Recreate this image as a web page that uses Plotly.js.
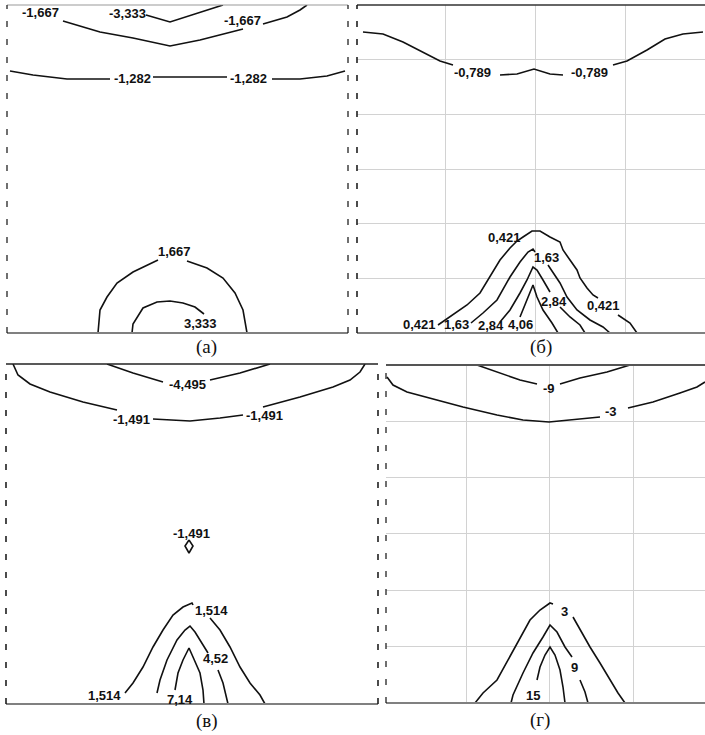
<!DOCTYPE html>
<html><head><meta charset="utf-8">
<script src="https://cdn.plot.ly/plotly-3.0.1.min.js"></script>
<style>html,body{margin:0;padding:0;background:#fff}</style>
</head><body><div id="chart" style="width:705px;height:735px"></div>
<script>
// ---- Panel (а): contour polylines (x from left edge, y = depth from top) ----
const a_m3333_x = [139, 163, 216];
const a_m3333_y = [10, 17, 0];
const a_m1667_x = [56, 93, 126, 163, 193, 236, null, 256, 280, 293, 300];
const a_m1667_y = [16, 27, 33, 41, 35, 24, null, 19, 12, 5, 0];
const a_m1282_x = [3, 26, 60, 103, null, 146, 220, null, 265, 293, 320, 338];
const a_m1282_y = [66, 70, 74, 74, null, 72, 72, null, 74, 74, 71, 66];
const a_p1667_x = [91, 93, 100, 110, 126, 146, 151, null, 180, 200, 216, 228, 236, 240];
const a_p1667_y = [328, 305, 292, 278, 267, 257, 255, null, 256, 263, 273, 288, 305, 328];
const a_p3333_x = [125, 126, 136, 150, 163, 176, 188, 197];
const a_p3333_y = [328, 319, 303, 297, 296, 298, 302, 309];
const a_labels = ["-1,667", "-3,333", "-1,667", "-1,282", "-1,282", "1,667", "3,333"];
const a_label_x = [33, 120, 235, 125, 241, 167, 193];
const a_label_y = [8, 9, 16, 74, 74, 247, 319];

// ---- Panel (б) ----
const b_m0789_x = [6, 26, 46, 66, 83, 96, null, 143, 160, 177, 193, 206, null, 256, 270, 290, 308, 326, 346];
const b_m0789_y = [27, 29, 37, 47, 56, 60, null, 70, 69, 64, 69, 70, null, 60, 56, 45, 34, 29, 27];
const b_0421_x = [81, 93, 110, 123, 133, 143, 153, 160, 166, 175, 183, 193, 203, 206, 213, 220, 223, 230, 236, 241, null, 261, 273, 280];
const b_0421_y = [320, 312, 300, 288, 272, 255, 243, 236, 232, 226, 226, 232, 237, 245, 255, 265, 273, 283, 290, 293, null, 310, 318, 328];
const b_163_x = [114, 126, 140, 153, 163, 171, 176, 178, null, 191, 196, 203, 210, 220, 233, 246, 253];
const b_163_y = [318, 308, 295, 272, 257, 247, 244, 247, null, 260, 267, 278, 292, 305, 315, 322, 328];
const b_284_x = [143, 153, 163, 170, 176, 180, 186, 193, null, 203, 213, 223, 228];
const b_284_y = [317, 305, 288, 275, 262, 265, 275, 287, null, 302, 312, 320, 328];
const b_406_x = [163, 170, 176, 180, 186, 195, 201];
const b_406_y = [312, 295, 280, 292, 305, 318, 328];
const b_labels = ["-0,789", "-0,789", "0,421", "0,421", "0,421", "1,63", "1,63", "2,84", "2,84", "4,06"];
const b_label_x = [116, 233, 63, 148, 247, 100, 190, 134, 197, 164];
const b_label_y = [68, 68, 320, 233, 301, 320, 253, 321, 297, 320];

// ---- Panel (в) ----
const c_m4495_x = [101, 127, 157, null, 204, 234, 264];
const c_m4495_y = [0, 9, 18, null, 16, 9, 0];
const c_m1491_x = [7, 12, 24, 44, 77, 111, null, 147, 184, 214, 237, null, 257, 294, 327, 344, 354, 359];
const c_m1491_y = [0, 11, 20, 28, 38, 46, null, 55, 57, 54, 51, null, 43, 33, 23, 16, 8, 0];
const c_ring_x = [183, 187, 183, 179, 183];
const c_ring_y = [176, 182, 189, 182, 176];
const c_1514_x = [119, 127, 137, 147, 157, 167, 177, 186, 187, null, 204, 214, 224, 234, 244, 254, 259];
const c_1514_y = [329, 319, 303, 283, 266, 251, 243, 239, 241, null, 254, 266, 283, 303, 319, 331, 340];
const c_452_x = [151, 154, 161, 171, 179, 184, 189, 197, 202, null, 212, 217, 222];
const c_452_y = [329, 316, 296, 276, 266, 262, 268, 281, 289, null, 306, 319, 340];
const c_714_x = [169, 172, 177, 183, 187, 194, 197, 198];
const c_714_y = [326, 309, 296, 284, 293, 309, 326, 340];
const c_labels = ["-4,495", "-1,491", "-1,491", "-1,491", "1,514", "1,514", "4,52", "7,14"];
const c_label_x = [182, 126, 259, 186, 99, 206, 210, 174];
const c_label_y = [20, 55, 51, 169, 331, 246, 294, 335];

// ---- Panel (г) ----
const d_m9_x = [91, 111, 134, 151, null, 174, 194, 221, 244];
const d_m9_y = [0, 7, 15, 19, null, 19, 13, 7, 0];
const d_m3_x = [1, 7, 21, 44, 77, 111, 137, 163, 187, 214, null, 242, 267, 294, 311, 319];
const d_m3_y = [12, 20, 27, 33, 42, 50, 55, 57, 55, 52, null, 43, 37, 28, 22, 17];
const d_3_x = [89, 97, 111, 122, 134, 144, 154, 164, 167, null, 187, 194, 204, 214, 224, 232, 239];
const d_3_y = [338, 328, 315, 295, 272, 255, 245, 238, 239, null, 252, 265, 282, 298, 315, 328, 338];
const d_9_x = [125, 127, 137, 147, 157, 164, 171, 179, 186, null, 194, 199, 202];
const d_9_y = [338, 330, 308, 288, 272, 260, 267, 282, 292, null, 315, 327, 338];
const d_15_x = [151, 154, 159, 164, 169, 174, 177, 179];
const d_15_y = [315, 302, 290, 282, 290, 305, 322, 338];
const d_labels = ["-9", "-3", "3", "9", "15"];
const d_label_x = [163, 225, 178, 188, 147];
const d_label_y = [23, 46, 246, 302, 330];

const captions = ["(а)", "(б)", "(в)", "(г)"];

// ---- build ----
const LINE = {color: '#111', width: 1.6};
function tr(x, y, ax) {
  return {type: 'scatter', mode: 'lines', x: x, y: y, xaxis: 'x' + ax, yaxis: 'y' + ax,
          line: LINE, connectgaps: false, hoverinfo: 'skip'};
}
const traces = [
  tr(a_m3333_x, a_m3333_y, ''), tr(a_m1667_x, a_m1667_y, ''), tr(a_m1282_x, a_m1282_y, ''),
  tr(a_p1667_x, a_p1667_y, ''), tr(a_p3333_x, a_p3333_y, ''),
  tr(b_m0789_x, b_m0789_y, '2'), tr(b_0421_x, b_0421_y, '2'), tr(b_163_x, b_163_y, '2'),
  tr(b_284_x, b_284_y, '2'), tr(b_406_x, b_406_y, '2'),
  tr(c_m4495_x, c_m4495_y, '3'), tr(c_m1491_x, c_m1491_y, '3'), tr(c_ring_x, c_ring_y, '3'),
  tr(c_1514_x, c_1514_y, '3'), tr(c_452_x, c_452_y, '3'), tr(c_714_x, c_714_y, '3'),
  tr(d_m9_x, d_m9_y, '4'), tr(d_m3_x, d_m3_y, '4'), tr(d_3_x, d_3_y, '4'),
  tr(d_9_x, d_9_y, '4'), tr(d_15_x, d_15_y, '4')
];

const annotations = [];
function addLabels(txt, xs, ys, ax) {
  txt.forEach((t, i) => annotations.push({
    text: '<b>' + t + '</b>', x: xs[i], y: ys[i], xref: 'x' + ax, yref: 'y' + ax,
    showarrow: false, xanchor: 'center', yanchor: 'middle',
    font: {family: 'Liberation Sans, Arial, sans-serif', size: 13, color: '#111'}
  }));
}
addLabels(a_labels, a_label_x, a_label_y, '');
addLabels(b_labels, b_label_x, b_label_y, '2');
addLabels(c_labels, c_label_x, c_label_y, '3');
addLabels(d_labels, d_label_x, d_label_y, '4');
const capPos = [[0.2922, 0.5279], [0.768, 0.5279], [0.2936, 0.0190], [0.766, 0.0204]];
captions.forEach((c, i) => annotations.push({
  text: c, xref: 'paper', yref: 'paper', x: capPos[i][0], y: capPos[i][1],
  showarrow: false, xanchor: 'center', yanchor: 'middle',
  font: {family: 'Liberation Serif, Times New Roman, serif', size: 19, color: '#111'}
}));

const shapes = [];
function seg(ax, x0, y0, x1, y1, color, width, dash) {
  shapes.push({type: 'line', xref: 'x' + ax + ' domain', yref: 'y' + ax + ' domain',
    x0: x0, y0: y0, x1: x1, y1: y1, layer: 'above',
    line: {color: color, width: width, dash: dash || 'solid'}});
}
const DASH = '6px,12px';
// а
seg('', 0, 0, 1, 0, '#808080', 2); seg('', 0, 1, 1, 1, '#999', 1.2);
seg('', 0, 0, 0, 1, '#111', 1.2, DASH); seg('', 1, 0, 1, 1, '#111', 1.2, DASH);
// б
seg('2', 0, 0, 1, 0, '#808080', 2); seg('2', 0, 1, 1, 1, '#333', 1.5);
seg('2', 0, 0, 0, 1, '#111', 1.5, DASH);
// в
seg('3', 0, 0, 1, 0, '#808080', 2); seg('3', 0, 1, 1, 1, '#222', 1.5);
seg('3', 0, 0, 0, 1, '#111', 1.5, DASH); seg('3', 1, 0, 1, 1, '#111', 1.5, DASH);
// г
seg('4', 0, 0, 1, 0, '#808080', 2); seg('4', 0, 1, 1, 1, '#555', 2);
seg('4', 0, 0, 0, 1, '#111', 1.2, DASH);

function ax(domain, range, grid, tick0, dtick) {
  return {domain: domain, range: range, showticklabels: false, ticks: '', zeroline: false,
          showline: false, showgrid: grid, gridcolor: '#d2d2d2', gridwidth: 1,
          tick0: tick0, dtick: dtick, fixedrange: true};
}
const layout = {
  width: 705, height: 735, margin: {l: 0, r: 0, t: 0, b: 0},
  paper_bgcolor: '#fff', plot_bgcolor: '#fff', showlegend: false,
  xaxis: Object.assign(ax([0.00993, 0.49362], [0, 341], false), {anchor: 'y'}),
  yaxis: Object.assign(ax([0.54694, 0.99320], [328, 0], false), {anchor: 'x'}),
  xaxis2: Object.assign(ax([0.50638, 1], [0, 348], true, 89, 90), {anchor: 'y2'}),
  yaxis2: Object.assign(ax([0.54694, 0.99320], [328, 0], true, 0, 54.67), {anchor: 'x2'}),
  xaxis3: Object.assign(ax([0.00851, 0.53617], [0, 372], false), {anchor: 'y3'}),
  yaxis3: Object.assign(ax([0.04218, 0.50476], [340, 0], false), {anchor: 'x3'}),
  xaxis4: Object.assign(ax([0.54752, 1], [0, 319], true, 80, 83.5), {anchor: 'y4'}),
  yaxis4: Object.assign(ax([0.04354, 0.50340], [338, 0], true, 0, 56.33), {anchor: 'x4'}),
  shapes: shapes, annotations: annotations
};
Plotly.newPlot('chart', traces, layout, {staticPlot: true, displayModeBar: false});
</script></body></html>
